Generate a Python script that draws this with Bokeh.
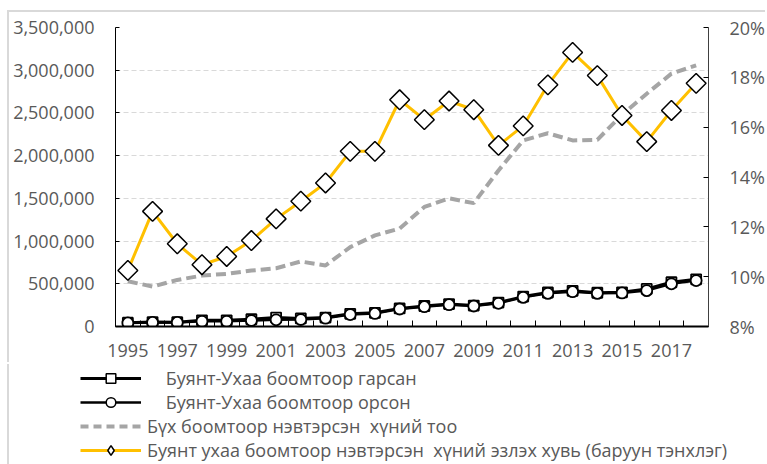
import math
from bokeh.plotting import figure
from bokeh.models import (Range1d, LinearAxis, FixedTicker, NumeralTickFormatter,
                          PrintfTickFormatter, Legend, LegendItem)
from bokeh.embed import file_html
from bokeh.resources import INLINE

# ---- data ----
years = list(range(1995, 2019))
exited = [45000, 52000, 50000, 72000, 72000, 85000, 105000, 95000, 105000, 148000, 160000, 212000,
          240000, 262000, 245000, 280000, 350000, 398000, 418000, 395000, 400000, 440000, 518000, 552000]
entered = [42000, 48000, 48000, 60000, 60000, 70000, 78000, 82000, 97000, 140000, 153000, 205000,
           232000, 255000, 240000, 271000, 341000, 388000, 408000, 388000, 393000, 420000, 500000, 538000]
total = [530000, 467000, 545000, 596000, 616000, 655000, 682000, 761000, 714000, 929000, 1067000, 1147000,
         1400000, 1500000, 1444000, 1827000, 2178000, 2262000, 2178000, 2185000, 2480000, 2725000, 2960000, 3057000]
share = [10.25, 12.62, 11.32, 10.48, 10.81, 11.45, 12.32, 13.03, 13.76, 15.03, 15.03, 17.1,
         16.3, 17.05, 16.7, 15.27, 16.05, 17.7, 19.0, 18.07, 16.47, 15.42, 16.67, 17.76]
x_tick_labels = [1995, 1997, 1999, 2001, 2003, 2005, 2007, 2009, 2011, 2013, 2015, 2017]
left_ticks = [0, 500000, 1000000, 1500000, 2000000, 2500000, 3000000, 3500000]
right_ticks = [8, 10, 12, 14, 16, 18, 20]
series_names = ["\u00a0\u00a0\u00a0\u00a0Буянт-Ухаа боомтоор гарсан",
                "\u00a0\u00a0\u00a0\u00a0Буянт-Ухаа боомтоор орсон",
                "Бүх боомтоор нэвтэрсэн \u00a0хүний тоо",
                "Буянт ухаа боомтоор нэвтэрсэн \u00a0хүний эзлэх хувь (баруун тэнхлэг)"]

FONT = "Open Sans"
TXT = "#595959"
W = 758
NAN = [float("nan")]

p = figure(width=W, height=352, output_backend="svg", toolbar_location=None,
           x_range=Range1d(years[0] - 0.5, years[-1] + 0.5),
           y_range=Range1d(left_ticks[0], left_ticks[-1]),
           min_border_left=106, min_border_right=54, min_border_top=15, min_border_bottom=38)
p.styles = {"margin-left": "9px", "margin-top": "12px", "box-shadow": "-2px -2px 0 0 #d9d9d9"}
p.extra_y_ranges = {"pct": Range1d(right_ticks[0], right_ticks[-1])}
p.outline_line_color = None
p.xgrid.visible = False
p.ygrid.ticker = FixedTicker(ticks=left_ticks)
p.ygrid.grid_line_color = "#d9d9d9"
p.ygrid.grid_line_dash = "5 3"
p.ygrid.grid_line_width = 1

# x axis
xa = p.xaxis[0]
xa.ticker = FixedTicker(ticks=x_tick_labels, minor_ticks=[y - 0.5 for y in years] + [years[-1] + 0.5])
xa.formatter = PrintfTickFormatter(format="%d")
xa.major_tick_line_color = None
xa.minor_tick_in = 6
xa.minor_tick_out = 0
xa.minor_tick_line_color = "black"
xa.minor_tick_line_width = 1
xa.axis_line_color = "black"
xa.axis_line_width = 2
xa.major_label_standoff = 11
xa.major_label_text_font = FONT
xa.major_label_text_font_size = "18px"
xa.major_label_text_color = TXT

# left axis
ya = p.yaxis[0]
ya.ticker = FixedTicker(ticks=left_ticks)
ya.formatter = NumeralTickFormatter(format="0,0")
ya.major_tick_in = 4
ya.major_tick_out = 0
ya.minor_tick_line_color = None
ya.axis_line_color = "black"
ya.major_label_standoff = 21
ya.major_label_text_font = FONT
ya.major_label_text_font_size = "18px"
ya.major_label_text_color = TXT

# right axis
ra = LinearAxis(y_range_name="pct", ticker=FixedTicker(ticks=right_ticks),
                formatter=PrintfTickFormatter(format="%d%%"))
ra.major_tick_in = 5
ra.major_tick_out = 0
ra.minor_tick_line_color = None
ra.axis_line_color = "#404040"
ra.major_label_standoff = 21
ra.major_label_text_font = FONT
ra.major_label_text_font_size = "18px"
ra.major_label_text_color = TXT
p.add_layout(ra, "right")

# series
mk = dict(fill_color="white", line_color="black")
p.line(years, exited, line_color="black", line_width=3)
p.scatter(years, exited, marker="square", size=10, line_width=1.8, **mk)
p.line(years, entered, line_color="black", line_width=2.5)
p.scatter(years, entered, marker="circle", size=11, line_width=1.8, **mk)
p.line(years, total, line_color="#a5a5a5", line_width=4, line_dash="10 5")
p.line(years, share, y_range_name="pct", line_color="#ffc000", line_width=3)
p.scatter(years, share, y_range_name="pct", marker="square", angle=math.pi / 4,
          size=14, line_width=1.5, **mk)

# legend strip: its own small figure so the legend is not clipped by the chart frame
lg = figure(width=W, height=100, output_backend="svg", toolbar_location=None,
            x_range=Range1d(0, 1), y_range=Range1d(0, 1), min_border=0,
            x_axis_location=None, y_axis_location=None)
lg.styles = {"margin-left": "9px", "box-shadow": "-2px 0 0 0 #d9d9d9"}
lg.grid.visible = False
lg.outline_line_color = None
l1 = lg.line(x=NAN, y=NAN, line_color="black", line_width=3)
m1 = lg.scatter(x=NAN, y=NAN, marker="square", line_width=1.5, **mk)
l2 = lg.line(x=NAN, y=NAN, line_color="black", line_width=2.5)
m2 = lg.scatter(x=NAN, y=NAN, marker="circle", line_width=1.5, **mk)
l3 = lg.line(x=NAN, y=NAN, line_color="#a5a5a5", line_width=4, line_dash="8 5")
l4 = lg.line(x=NAN, y=NAN, line_color="#ffc000", line_width=3)
m4 = lg.scatter(x=NAN, y=NAN, marker="diamond", line_width=1.5, **mk)

legend = Legend(items=[LegendItem(label=series_names[0], renderers=[l1, m1]),
                       LegendItem(label=series_names[1], renderers=[l2, m2]),
                       LegendItem(label=series_names[2], renderers=[l3]),
                       LegendItem(label=series_names[3], renderers=[l4, m4])],
                location=(71, 2), glyph_width=61, glyph_height=24, label_height=24,
                spacing=0, padding=0, margin=0, border_line_color=None,
                background_fill_alpha=0, label_standoff=6,
                label_text_font=FONT, label_text_font_size="18px", label_text_color=TXT)
lg.add_layout(legend, "center")

open("out.html", "w").write(file_html([p, lg], INLINE))
